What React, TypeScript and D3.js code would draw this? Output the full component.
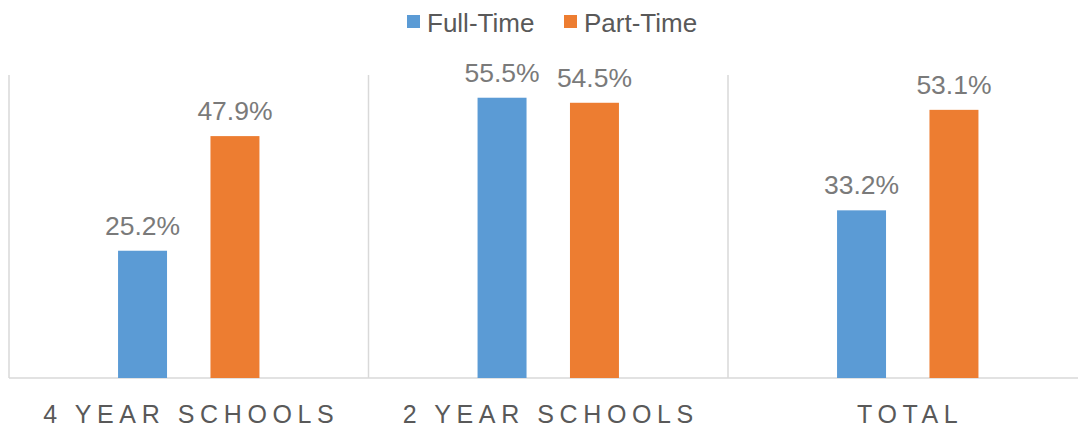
import * as d3 from "d3";

const width = 1078;
const height = 428;

const categories = ["4 YEAR SCHOOLS", "2 YEAR SCHOOLS", "TOTAL"];
const series = ["Full-Time", "Part-Time"];
const fullTime = [25.2, 55.5, 33.2];
const partTime = [47.9, 54.5, 53.1];
const colors = ["#5b9bd5", "#ed7d31"];

const values = [fullTime, partTime];

const App = () => {
  const plotLeft = 9;
  const plotTop = 75;
  const baseline = 378;

  // category band, the last one runs past the right edge like the original
  const x = d3
    .scaleBand<string>()
    .domain(categories)
    .range([plotLeft, plotLeft + 3 * 359.5]);

  const xInner = d3
    .scaleBand<string>()
    .domain(series)
    .range([0, x.bandwidth()])
    .paddingInner(0.47)
    .paddingOuter(1.18);

  const y = d3.scaleLinear().domain([0, 60]).range([baseline, plotTop]);

  const grid = "#d9d9d9";
  const font = "Arial, 'Liberation Sans', sans-serif";

  // legend layout
  const legendItems = [
    { name: series[0], x: 407, color: colors[0] },
    { name: series[1], x: 564, color: colors[1] },
  ];

  return (
    <svg
      width={width}
      height={height}
      style={{ position: "absolute", left: 0, top: 0, background: "white" }}
      fontFamily={font}
    >
      {/* vertical separators between categories */}
      {categories.map((c) => (
        <line
          key={c}
          x1={x(c)}
          x2={x(c)}
          y1={plotTop}
          y2={baseline}
          stroke={grid}
          strokeWidth={1.5}
        />
      ))}
      <line
        x1={plotLeft}
        x2={width}
        y1={baseline}
        y2={baseline}
        stroke={grid}
        strokeWidth={1.5}
      />

      {categories.map((c, ci) => (
        <g key={c} transform={`translate(${x(c)},0)`}>
          {series.map((s, si) => {
            const v = values[si][ci];
            const bx = xInner(s)!;
            return (
              <g key={s}>
                <rect
                  x={bx}
                  y={y(v)}
                  width={xInner.bandwidth()}
                  height={baseline - y(v)}
                  fill={colors[si]}
                />
                <text
                  x={bx + xInner.bandwidth() / 2}
                  y={y(v) - 16}
                  textAnchor="middle"
                  fontSize={26.5}
                  fill="#7a7a7a"
                >
                  {v.toFixed(1)}%
                </text>
              </g>
            );
          })}
          <text
            x={x.bandwidth() / 2 + 2.5}
            y={423}
            textAnchor="middle"
            fontSize={25}
            letterSpacing={5.6}
            fill="#595959"
          >
            {c}
          </text>
        </g>
      ))}

      {legendItems.map((d) => (
        <g key={d.name} transform={`translate(${d.x},0)`}>
          <rect x={0} y={15} width={13} height={13} fill={d.color} />
          <text x={20} y={32} fontSize={26} fill="#595959">
            {d.name}
          </text>
        </g>
      ))}
    </svg>
  );
};

export default App;
